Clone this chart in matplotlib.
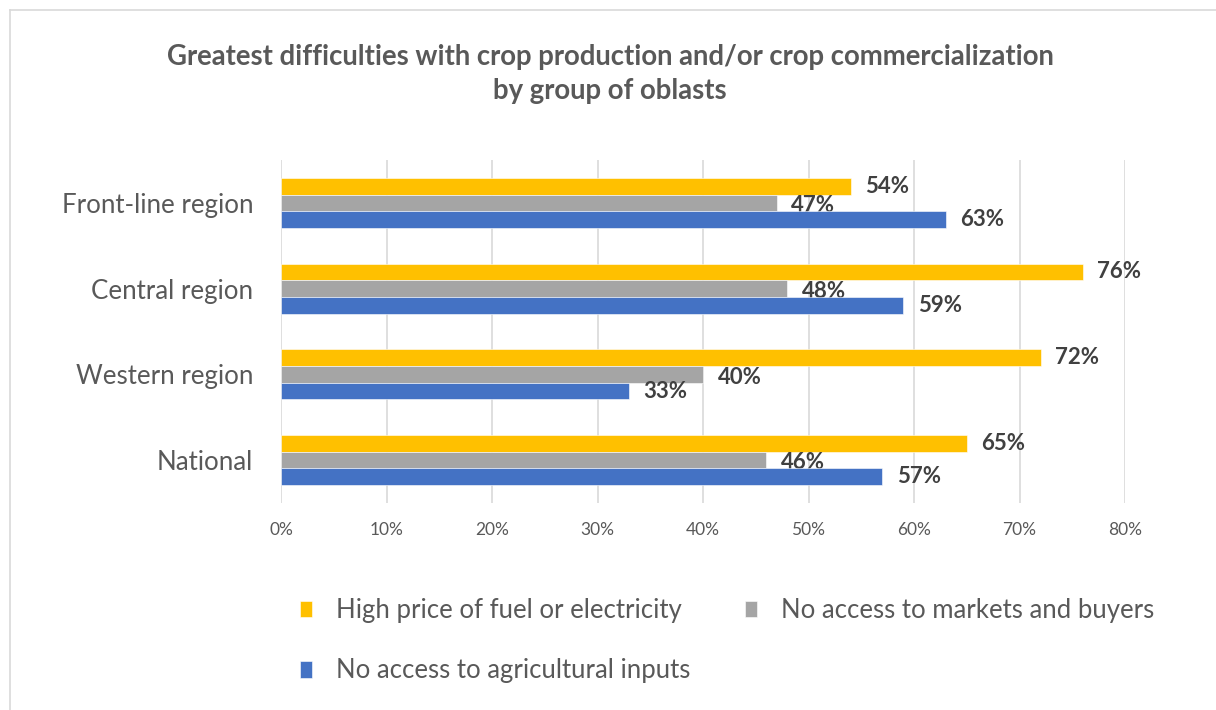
import matplotlib
matplotlib.use("Agg")
import matplotlib.pyplot as plt
from matplotlib.lines import Line2D
import numpy as np

plt.rcParams['font.family'] = ['Lato', 'DejaVu Sans']

categories = ["Front-line region", "Central region", "Western region", "National"]
series_names = ["High price of fuel or electricity",
                "No access to markets and buyers",
                "No access to agricultural inputs"]
fuel = [54, 76, 72, 65]
markets = [47, 48, 40, 46]
inputs = [63, 59, 33, 57]
xticks = [0, 10, 20, 30, 40, 50, 60, 70, 80]
title = "Greatest difficulties with crop production and/or crop commercialization\nby group of oblasts"

colors = ["#FFC000", "#A5A5A5", "#4472C4"]
W, H = 1216, 710
fig = plt.figure(figsize=(W / 100, H / 100), dpi=100)
fig.patch.set_facecolor("white")

# border lines (top and left)
fig.add_artist(Line2D([10 / W, 1.0], [1 - 10 / H, 1 - 10 / H], color="#d9d9d9", lw=1.2))
fig.add_artist(Line2D([10 / W, 10 / W], [0, 1 - 10 / H], color="#d9d9d9", lw=1.2))

ax = fig.add_axes([281 / W, 1 - 503 / H, (1125 - 281) / W, (503 - 160) / H])
y = np.arange(len(categories))
h = 0.195
series = [fuel, markets, inputs]
offsets = [-h, 0, h]
dys = [0, -2, 0]
handles = []
for vals, off, col, name, dy in zip(series, offsets, colors, series_names, dys):
    bars = ax.barh(y + off, vals, height=h, color=col, edgecolor="white", linewidth=0.4, label=name, zorder=3)
    handles.append(bars)
    for yy, v in zip(y + off, vals):
        ax.annotate(f"{v}%", xy=(v, yy), xytext=(10.5, dy), textcoords="offset points",
                    ha="left", va="center", fontsize=16, fontweight="bold", color="#404040")

ax.set_xlim(0, 80)
ax.set_ylim(len(categories) - 0.5, -0.5)
ax.set_xticks(xticks)
ax.set_xticklabels([f"{t}%" for t in xticks], fontsize=12.5, color="#595959")
ax.set_yticks(y)
ax.set_yticklabels(categories, fontsize=18.6, color="#595959")
ax.tick_params(axis="both", length=0)
ax.tick_params(axis="x", pad=14)
ax.tick_params(axis="y", pad=20)
ax.grid(axis="x", color="#d9d9d9", lw=1.2, zorder=0)
for s in ax.spines.values():
    s.set_visible(False)

fig.text(610 / W, 1 - 74 / H, title, ha="center", va="center", fontsize=19.8,
         fontweight="bold", color="#595959", linespacing=1.4)

leg = fig.legend([handles[0], handles[2], handles[1]],
                 [series_names[0], series_names[2], series_names[1]],
                 ncol=2, loc="upper left", bbox_to_anchor=(300 / W, 1 - 598 / H),
                 frameon=False, fontsize=18.5, handlelength=0.47, handleheight=0.62,
                 handletextpad=0.95, columnspacing=2.1, labelspacing=1.38, borderpad=0,
                 borderaxespad=0)
for t in leg.get_texts():
    t.set_color("#595959")

fig.savefig("out.png", dpi=100, facecolor="white")
